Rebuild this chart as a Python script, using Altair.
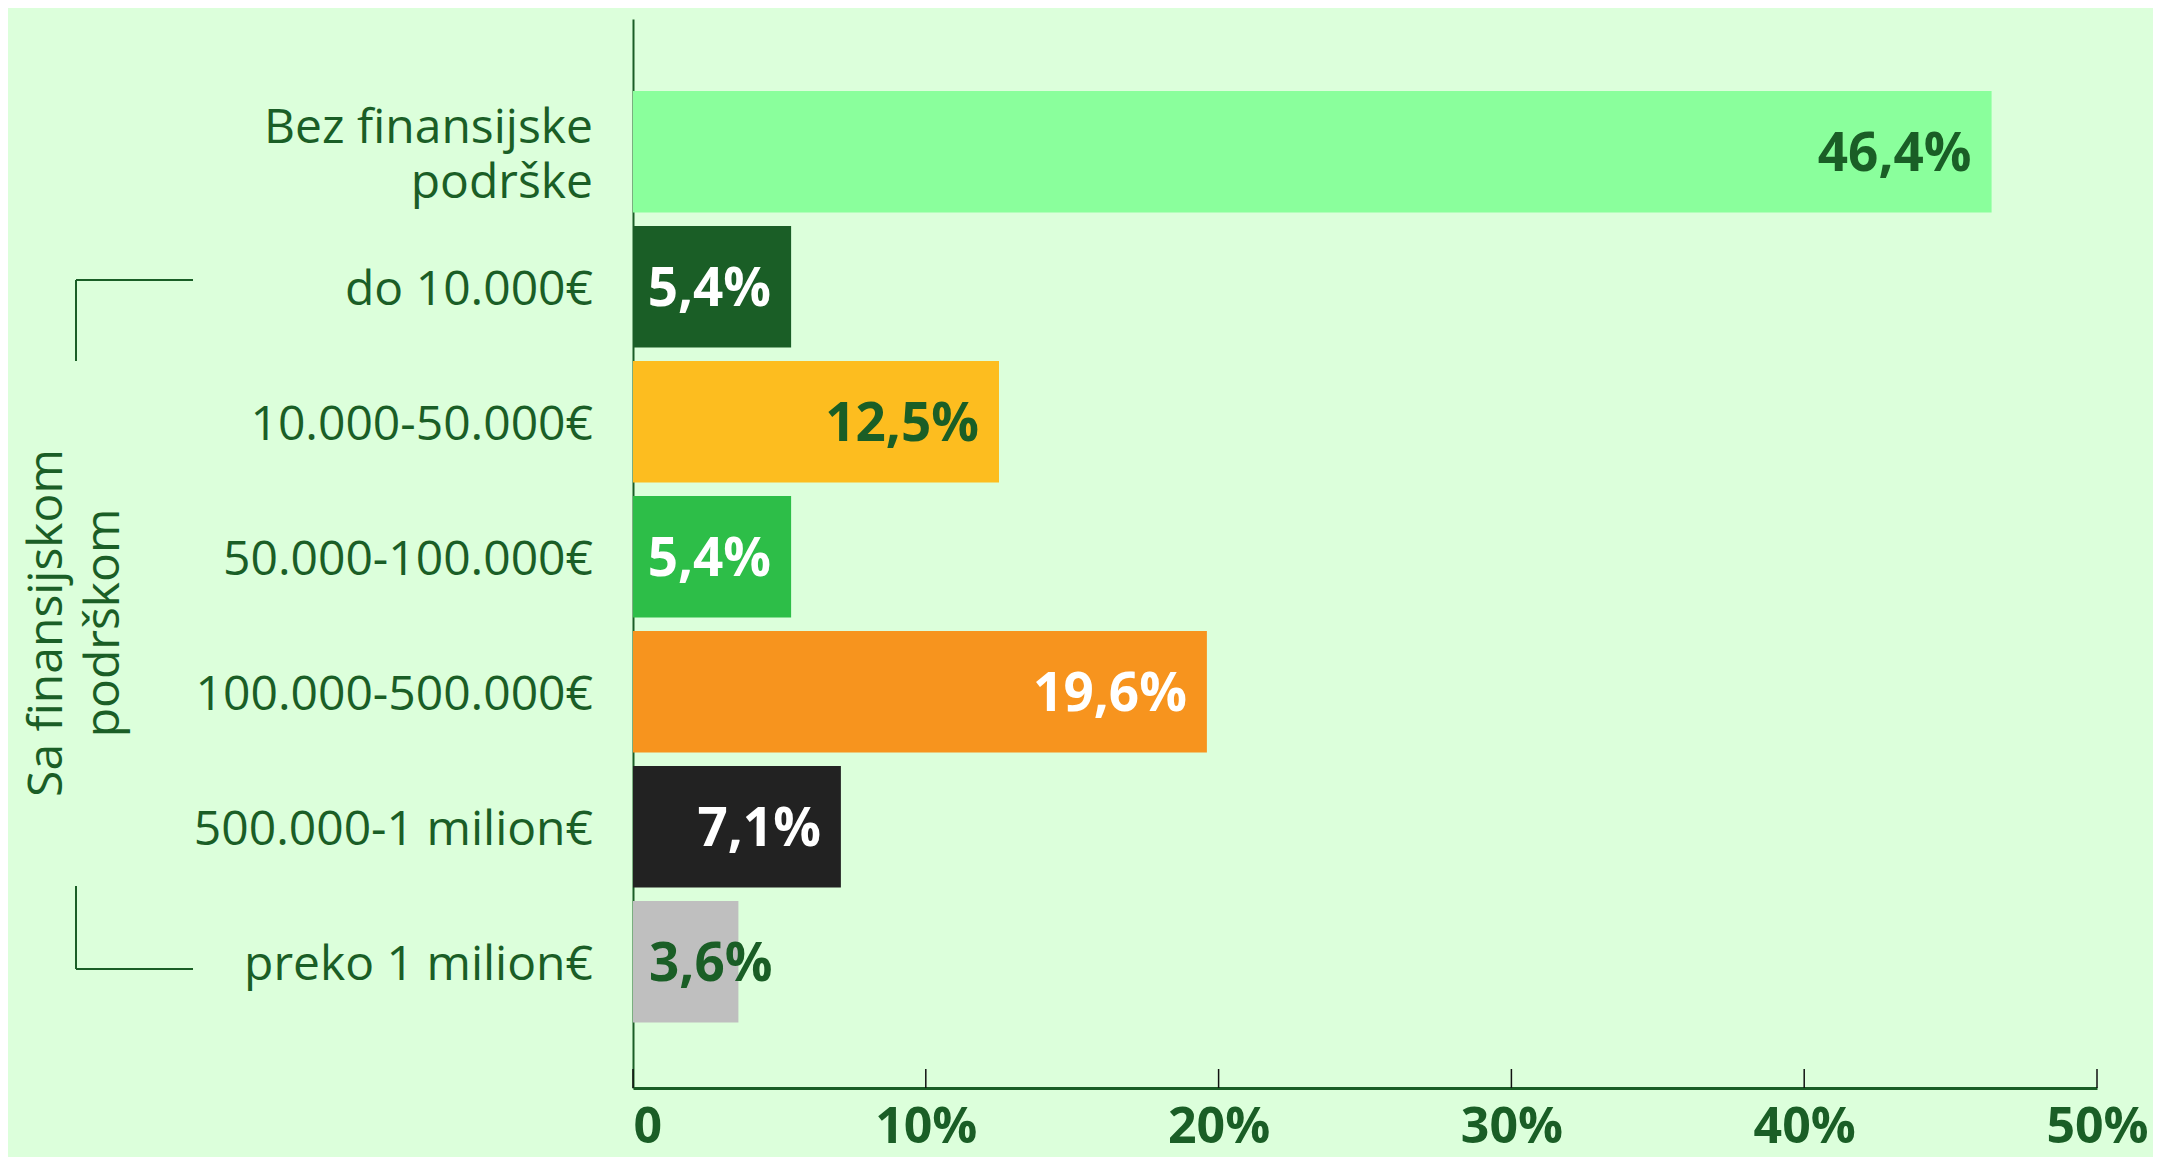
import altair as alt
import pandas as pd

categories = ["Bez finansijske\npodrške", "do 10.000€", "10.000-50.000€", "50.000-100.000€",
              "100.000-500.000€", "500.000-1 milion€", "preko 1 milion€"]
values = [46.4, 5.4, 12.5, 5.4, 19.6, 7.1, 3.6]
value_labels = ["46,4%", "5,4%", "12,5%", "5,4%", "19,6%", "7,1%", "3,6%"]
bar_colors = ["#8AFF9C", "#1A5E26", "#FDBD1F", "#2DBE48", "#F7941E", "#222222", "#BFBFBF"]
label_colors = ["#1A5E26", "#FFFFFF", "#1A5E26", "#FFFFFF", "#FFFFFF", "#FFFFFF", "#1A5E26"]
x_ticks = [0, 10, 20, 30, 40, 50]
group_title = "Sa finansijskom\npodrškom"

DARK = "#1A5E26"
BG = "#DCFFDB"
FONT = "Open Sans"

df = pd.DataFrame({
    "cat": categories,
    "value": values,
    "label": value_labels,
    "bar_color": bar_colors,
    "label_color": label_colors,
})
ticks_df = pd.DataFrame({"value": x_ticks})
title_df = pd.DataFrame({"txt": [group_title]})

yscale = alt.Scale(domain=categories, paddingInner=0.1, paddingOuter=0.509, align=0.524)
xscale = alt.Scale(domain=[0, 50])

yaxis = alt.Axis(labels=False, ticks=False, title=None, domain=True, grid=False,
                 domainColor=DARK, domainWidth=2)
xaxis = alt.Axis(values=x_ticks, title=None, grid=False, ticks=False, tickSize=0,
                 labelExpr="datum.value == 0 ? '0' : datum.value + '%'",
                 labelAlign={"condition": {"test": "datum.value == 0", "value": "left"},
                             "value": "center"},
                 labelFont=FONT, labelFontSize=50, labelFontWeight="bold",
                 labelColor=DARK, labelPadding=14, labelFlush=False,
                 domainColor=DARK, domainWidth=3)

Y = alt.Y("cat:N", scale=yscale, sort=categories, axis=yaxis, title=None)
X = alt.X("value:Q", scale=xscale, axis=xaxis, title=None)

base = alt.Chart(df)

bars = base.mark_bar().encode(
    y=Y, x=X,
    color=alt.Color("bar_color:N", scale=None, legend=None),
)

tick_rules = alt.Chart(ticks_df).mark_rule(color="#111111", strokeWidth=1.5).encode(
    x=X,
    y=alt.value(1050),
    y2=alt.value(1069),
)

big_labels = base.transform_filter("datum.value >= 5").mark_text(
    align="right", baseline="middle", dx=-20, dy=3, font=FONT, fontSize=53, fontWeight="bold"
).encode(
    y=Y, x=X,
    text="label:N",
    color=alt.Color("label_color:N", scale=None, legend=None),
)

small_labels = base.transform_filter("datum.value < 5").mark_text(
    align="left", baseline="middle", dy=3, font=FONT, fontSize=53, fontWeight="bold"
).encode(
    y=Y,
    x=alt.value(16),
    text="label:N",
    color=alt.Color("label_color:N", scale=None, legend=None),
)

cat_single = base.transform_filter("indexof(datum.cat, '\\n') < 0").mark_text(
    align="right", baseline="middle", dy=4,
    font=FONT, fontSize=48, color=DARK
).encode(
    y=Y,
    x=alt.value(-40),
    text="cat:N",
)

cat_multi = base.transform_filter("indexof(datum.cat, '\\n') >= 0").mark_text(
    align="right", baseline="middle", lineBreak="\n", lineHeight=55, dy=-23,
    font=FONT, fontSize=48, color=DARK
).encode(
    y=Y,
    x=alt.value(-40),
    text="cat:N",
)

group_text = alt.Chart(title_df).mark_text(
    angle=270, align="center", baseline="middle", lineBreak="\n", lineHeight=57,
    font=FONT, fontSize=48, color=DARK
).encode(
    x=alt.value(-585),
    y=alt.value(604),
    text="txt:N",
)

bracket = alt.Chart(title_df).mark_rule(color=DARK, strokeWidth=2)
b1 = bracket.encode(x=alt.value(-557), x2=alt.value(-440), y=alt.value(261))
b2 = bracket.encode(x=alt.value(-557), y=alt.value(261), y2=alt.value(342))
b3 = bracket.encode(x=alt.value(-557), y=alt.value(867), y2=alt.value(950))
b4 = bracket.encode(x=alt.value(-557), x2=alt.value(-440), y=alt.value(950))

chart = alt.layer(
    bars, tick_rules, big_labels, small_labels, cat_single, cat_multi, group_text,
    b1, b2, b3, b4
).properties(
    width=1464, height=1069,
    padding={"left": 625, "top": 11, "right": 56, "bottom": 69},
    autosize=alt.AutoSizeParams(type="none"),
    view=alt.ViewBackground(stroke=None, strokeWidth=0),
).configure_view(stroke=None, strokeWidth=0).configure(background=BG, font=FONT)

chart.save("out.html", embed_options={"renderer": "svg", "actions": False})
